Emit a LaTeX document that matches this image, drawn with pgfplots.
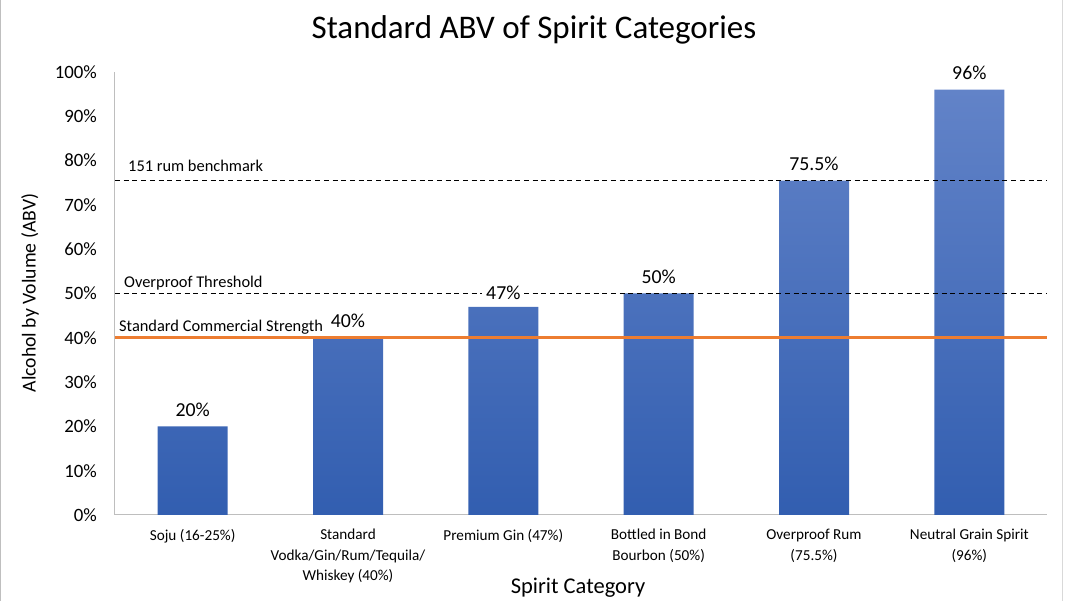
\documentclass[border=0pt]{standalone}
\usepackage{pgfplots}
\pgfplotsset{compat=1.18}
\usepackage{fontspec}
\setmainfont{Carlito}
\definecolor{bartop}{RGB}{98,131,200}
\definecolor{barbot}{RGB}{50,94,176}
\definecolor{axgrey}{RGB}{190,190,190}
\definecolor{exorange}{RGB}{237,125,49}
\begin{document}
\begin{tikzpicture}
\useasboundingbox (-115pt,-86pt) rectangle (953pt,515pt);
\begin{axis}[
  scale only axis,
  width=932pt, height=443pt,
  at={(0pt,0pt)}, anchor=south west,
  xmin=-0.5, xmax=5.5, ymin=0, ymax=100,
  axis x line=bottom, axis y line=left,
  axis line style={axgrey, line width=1pt, -},
  major tick length=0pt,
  xtick={0,1,2,3,4,5},
  xticklabels={Soju (16-25\%),Standard\\Vodka/Gin/Rum/Tequila/\\Whiskey (40\%),Premium Gin (47\%),Bottled in Bond\\Bourbon (50\%),Overproof Rum\\(75.5\%),Neutral Grain Spirit\\(96\%)},
  xticklabel style={align=center, anchor=north, inner sep=0pt, yshift=-14pt, font=\fontsize{15.2}{20.5}\selectfont},
  ytick={0,10,...,100},
  yticklabels={0\%,10\%,20\%,30\%,40\%,50\%,60\%,70\%,80\%,90\%,100\%},
  yticklabel style={anchor=east, inner sep=0pt, xshift=-18pt, font=\fontsize{18.8}{20}\selectfont},
  clip=false,
]
\addplot[ybar, bar width=70pt, bar shift=0pt, draw=none, top color=bartop, bottom color=barbot]
  coordinates {(0,20) (1,40) (2,47) (3,50) (4,75.5) (5,96)};
\addplot[black, line width=1.3pt, dash pattern=on 5pt off 3.7pt] coordinates {(-0.5,75.5) (5.5,75.5)};
\addplot[black, line width=1.3pt, dash pattern=on 5pt off 3.7pt] coordinates {(-0.5,50) (5.5,50)};
\addplot[exorange, line width=3pt] coordinates {(-0.5,40) (5.5,40)};
\addplot[only marks, mark=none, point meta=explicit symbolic,
  nodes near coords,
  nodes near coords style={anchor=base, yshift=10pt, fill=white, inner xsep=4pt, inner ysep=0pt, font=\fontsize{19.8}{22}\selectfont, text=black}]
  coordinates {(0,20) [20\%] (1,40) [40\%] (3,50) [50\%] (4,75.5) [75.5\%] (5,96) [96\%]};
\addplot[only marks, mark=none, point meta=explicit symbolic,
  nodes near coords,
  nodes near coords style={anchor=base, yshift=7.5pt, fill=white, inner xsep=4pt, inner ysep=0pt, font=\fontsize{19.8}{22}\selectfont, text=black}]
  coordinates {(2,47) [47\%]};
\node[anchor=base west, inner sep=0pt, font=\fontsize{16.4}{18}\selectfont] at ([xshift=13pt, yshift=9.5pt]axis cs:-0.5,75.5) {151 rum benchmark};
\node[anchor=base west, inner sep=0pt, font=\fontsize{16.4}{18}\selectfont] at ([xshift=9pt, yshift=6pt]axis cs:-0.5,50) {Overproof Threshold};
\node[anchor=base west, inner sep=0pt, font=\fontsize{16.4}{18}\selectfont] at ([xshift=4pt, yshift=6pt]axis cs:-0.5,40) {Standard Commercial Strength};
\end{axis}
\node[font=\fontsize{33}{38}\selectfont] at (419pt,485pt) {Standard ABV of Spirit Categories};
\node[rotate=90, font=\fontsize{19.7}{22}\selectfont] at (-85pt,222pt) {Alcohol by Volume (ABV)};
\node[font=\fontsize{22.5}{26}\selectfont] at (463pt,-73pt) {Spirit Category};
\draw[black!15, line width=1pt] (947pt,-86pt) -- (947pt,515pt);
\draw[black!25, line width=1pt] (-114.5pt,-86pt) -- (-114.5pt,515pt);
\end{tikzpicture}
\end{document}
